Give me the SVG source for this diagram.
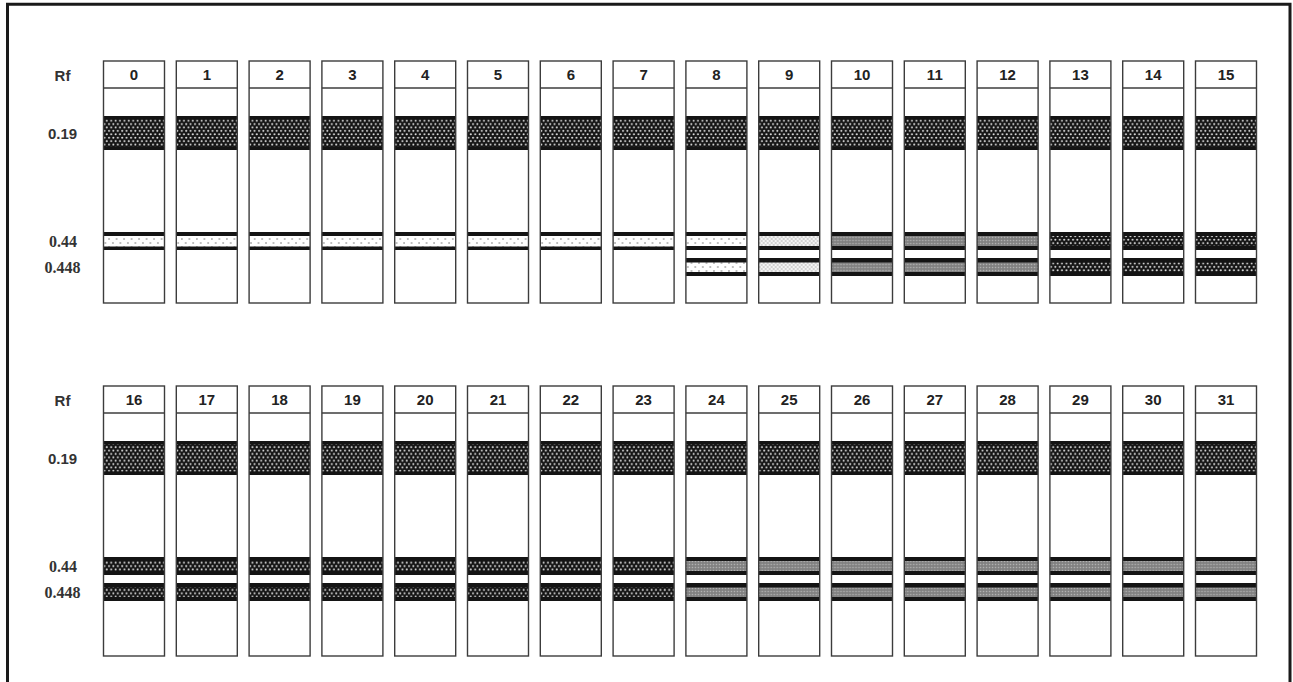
<svg xmlns="http://www.w3.org/2000/svg" width="1293" height="682" viewBox="0 0 1293 682">
<style>
.col{fill:none;stroke:#3c3c3c;stroke-width:1.4}
.bg{fill:#fff}
.hd{stroke:#3c3c3c;stroke-width:1.4}
.blk{fill:#141414}
.num{font-family:"Liberation Sans",Arial,sans-serif;font-weight:bold;font-size:15px;fill:#222;text-anchor:middle}
.lab{font-family:"Liberation Sans",Arial,sans-serif;font-weight:bold;font-size:15px;fill:#333;text-anchor:middle}
.labs{font-family:"Liberation Serif","Times New Roman",serif;font-weight:bold;font-size:16px;fill:#333;text-anchor:middle}
.frame{fill:none;stroke:#1a1a1a;stroke-width:3}
</style>
<defs>
<pattern id="pDark" patternUnits="userSpaceOnUse" width="4.4" height="6.8">
<rect width="4.4" height="6.8" fill="#141414"/>
<circle cx="1.1" cy="1.7" r="1" fill="#e6e6e6"/>
<circle cx="3.3" cy="5.1" r="1" fill="#e6e6e6"/>
</pattern>
<pattern id="pLight" patternUnits="userSpaceOnUse" width="7.5" height="8">
<rect width="7.5" height="8" fill="#fff"/>
<circle cx="1.9" cy="3" r="0.75" fill="#666"/>
<circle cx="5.6" cy="7" r="0.75" fill="#666"/>
</pattern>
<pattern id="pCirc" patternUnits="userSpaceOnUse" width="4" height="4">
<rect width="4" height="4" fill="#d2d2d2"/>
<circle cx="1" cy="1" r="1" fill="#fff"/>
<circle cx="3" cy="3" r="1" fill="#fff"/>
</pattern>
<pattern id="pGrey" patternUnits="userSpaceOnUse" width="3" height="3">
<rect width="3" height="3" fill="#8a8a8a"/>
<rect x="0" y="0" width="1" height="1" fill="#b4b4b4"/>
<rect x="1.5" y="1.5" width="1" height="1" fill="#666"/>
</pattern>
<g id="topCol">
<rect class="bg" x="0" y="61" width="61" height="242"/>
<rect class="blk" x="0" y="116" width="61" height="34"/>
<rect fill="url(#pDark)" x="0" y="119.5" width="61" height="27"/>
</g>
<g id="botCol">
<rect class="bg" x="0" y="386" width="61" height="270"/>
<rect class="blk" x="0" y="441" width="61" height="34"/>
<rect fill="url(#pDark)" x="0" y="444.5" width="61" height="27"/>
</g>
</defs>

<rect class="bg" width="1293" height="682"/>
<path class="frame" d="M7.5,682 V4.3 H1290 V682"/>

<g id="axis-labels">
<text class="lab" x="62.5" y="81">Rf</text>
<text class="lab" x="62.5" y="139">0.19</text>
<text class="labs" x="63" y="247">0.44</text>
<text class="labs" x="62.5" y="273">0.448</text>
<text class="lab" x="62.5" y="406">Rf</text>
<text class="lab" x="62.5" y="464">0.19</text>
<text class="labs" x="63" y="572">0.44</text>
<text class="labs" x="62.5" y="598">0.448</text>
</g>

<g id="connectors"></g>

<!-- top row -->
<g id="lane-0" transform="translate(103.5,0)"><use href="#topCol"/><rect class="blk" y="232" width="61" height="18"/><rect fill="url(#pLight)" y="236" width="61" height="10.5"/><rect class="col" width="61" y="61" height="242"/><line class="hd" x1="0" x2="61" y1="88" y2="88"/><text class="num" x="30.5" y="80">0</text></g>
<g id="lane-1" transform="translate(176.3,0)"><use href="#topCol"/><rect class="blk" y="232" width="61" height="18"/><rect fill="url(#pLight)" y="236" width="61" height="10.5"/><rect class="col" width="61" y="61" height="242"/><line class="hd" x1="0" x2="61" y1="88" y2="88"/><text class="num" x="30.5" y="80">1</text></g>
<g id="lane-2" transform="translate(249.1,0)"><use href="#topCol"/><rect class="blk" y="232" width="61" height="18"/><rect fill="url(#pLight)" y="236" width="61" height="10.5"/><rect class="col" width="61" y="61" height="242"/><line class="hd" x1="0" x2="61" y1="88" y2="88"/><text class="num" x="30.5" y="80">2</text></g>
<g id="lane-3" transform="translate(321.9,0)"><use href="#topCol"/><rect class="blk" y="232" width="61" height="18"/><rect fill="url(#pLight)" y="236" width="61" height="10.5"/><rect class="col" width="61" y="61" height="242"/><line class="hd" x1="0" x2="61" y1="88" y2="88"/><text class="num" x="30.5" y="80">3</text></g>
<g id="lane-4" transform="translate(394.7,0)"><use href="#topCol"/><rect class="blk" y="232" width="61" height="18"/><rect fill="url(#pLight)" y="236" width="61" height="10.5"/><rect class="col" width="61" y="61" height="242"/><line class="hd" x1="0" x2="61" y1="88" y2="88"/><text class="num" x="30.5" y="80">4</text></g>
<g id="lane-5" transform="translate(467.5,0)"><use href="#topCol"/><rect class="blk" y="232" width="61" height="18"/><rect fill="url(#pLight)" y="236" width="61" height="10.5"/><rect class="col" width="61" y="61" height="242"/><line class="hd" x1="0" x2="61" y1="88" y2="88"/><text class="num" x="30.5" y="80">5</text></g>
<g id="lane-6" transform="translate(540.3,0)"><use href="#topCol"/><rect class="blk" y="232" width="61" height="18"/><rect fill="url(#pLight)" y="236" width="61" height="10.5"/><rect class="col" width="61" y="61" height="242"/><line class="hd" x1="0" x2="61" y1="88" y2="88"/><text class="num" x="30.5" y="80">6</text></g>
<g id="lane-7" transform="translate(613.1,0)"><use href="#topCol"/><rect class="blk" y="232" width="61" height="18"/><rect fill="url(#pLight)" y="236" width="61" height="10.5"/><rect class="col" width="61" y="61" height="242"/><line class="hd" x1="0" x2="61" y1="88" y2="88"/><text class="num" x="30.5" y="80">7</text></g>
<g id="lane-8" transform="translate(685.9,0)"><use href="#topCol"/><rect class="blk" y="232" width="61" height="18"/><rect fill="url(#pLight)" y="236" width="61" height="10"/><rect class="blk" y="258" width="61" height="18"/><rect fill="url(#pLight)" y="262.5" width="61" height="9.5"/><rect class="col" width="61" y="61" height="242"/><line class="hd" x1="0" x2="61" y1="88" y2="88"/><text class="num" x="30.5" y="80">8</text></g>
<g id="lane-9" transform="translate(758.7,0)"><use href="#topCol"/><rect class="blk" y="232" width="61" height="18"/><rect fill="url(#pCirc)" y="236" width="61" height="10"/><rect class="blk" y="258" width="61" height="18"/><rect fill="url(#pCirc)" y="262.5" width="61" height="9.5"/><rect class="col" width="61" y="61" height="242"/><line class="hd" x1="0" x2="61" y1="88" y2="88"/><text class="num" x="30.5" y="80">9</text></g>
<g id="lane-10" transform="translate(831.5,0)"><use href="#topCol"/><rect class="blk" y="232" width="61" height="18"/><rect fill="url(#pGrey)" y="236" width="61" height="10"/><rect class="blk" y="258" width="61" height="18"/><rect fill="url(#pGrey)" y="262.5" width="61" height="9.5"/><rect class="col" width="61" y="61" height="242"/><line class="hd" x1="0" x2="61" y1="88" y2="88"/><text class="num" x="30.5" y="80">10</text></g>
<g id="lane-11" transform="translate(904.3,0)"><use href="#topCol"/><rect class="blk" y="232" width="61" height="18"/><rect fill="url(#pGrey)" y="236" width="61" height="10"/><rect class="blk" y="258" width="61" height="18"/><rect fill="url(#pGrey)" y="262.5" width="61" height="9.5"/><rect class="col" width="61" y="61" height="242"/><line class="hd" x1="0" x2="61" y1="88" y2="88"/><text class="num" x="30.5" y="80">11</text></g>
<g id="lane-12" transform="translate(977.1,0)"><use href="#topCol"/><rect class="blk" y="232" width="61" height="18"/><rect fill="url(#pGrey)" y="236" width="61" height="10"/><rect class="blk" y="258" width="61" height="18"/><rect fill="url(#pGrey)" y="262.5" width="61" height="9.5"/><rect class="col" width="61" y="61" height="242"/><line class="hd" x1="0" x2="61" y1="88" y2="88"/><text class="num" x="30.5" y="80">12</text></g>
<g id="lane-13" transform="translate(1049.9,0)"><use href="#topCol"/><rect class="blk" y="232" width="61" height="18"/><rect fill="url(#pDark)" y="236" width="61" height="10"/><rect class="blk" y="258" width="61" height="18"/><rect fill="url(#pDark)" y="262.5" width="61" height="9.5"/><rect class="col" width="61" y="61" height="242"/><line class="hd" x1="0" x2="61" y1="88" y2="88"/><text class="num" x="30.5" y="80">13</text></g>
<g id="lane-14" transform="translate(1122.7,0)"><use href="#topCol"/><rect class="blk" y="232" width="61" height="18"/><rect fill="url(#pDark)" y="236" width="61" height="10"/><rect class="blk" y="258" width="61" height="18"/><rect fill="url(#pDark)" y="262.5" width="61" height="9.5"/><rect class="col" width="61" y="61" height="242"/><line class="hd" x1="0" x2="61" y1="88" y2="88"/><text class="num" x="30.5" y="80">14</text></g>
<g id="lane-15" transform="translate(1195.5,0)"><use href="#topCol"/><rect class="blk" y="232" width="61" height="18"/><rect fill="url(#pDark)" y="236" width="61" height="10"/><rect class="blk" y="258" width="61" height="18"/><rect fill="url(#pDark)" y="262.5" width="61" height="9.5"/><rect class="col" width="61" y="61" height="242"/><line class="hd" x1="0" x2="61" y1="88" y2="88"/><text class="num" x="30.5" y="80">15</text></g>

<!-- bottom row -->
<g id="lane-16" transform="translate(103.5,0)"><use href="#botCol"/><rect class="blk" y="557" width="61" height="18"/><rect fill="url(#pDark)" y="561" width="61" height="10"/><rect class="blk" y="583" width="61" height="18"/><rect fill="url(#pDark)" y="587.5" width="61" height="9.5"/><rect class="col" width="61" y="386" height="270"/><line class="hd" x1="0" x2="61" y1="413" y2="413"/><text class="num" x="30.5" y="405">16</text></g>
<g id="lane-17" transform="translate(176.3,0)"><use href="#botCol"/><rect class="blk" y="557" width="61" height="18"/><rect fill="url(#pDark)" y="561" width="61" height="10"/><rect class="blk" y="583" width="61" height="18"/><rect fill="url(#pDark)" y="587.5" width="61" height="9.5"/><rect class="col" width="61" y="386" height="270"/><line class="hd" x1="0" x2="61" y1="413" y2="413"/><text class="num" x="30.5" y="405">17</text></g>
<g id="lane-18" transform="translate(249.1,0)"><use href="#botCol"/><rect class="blk" y="557" width="61" height="18"/><rect fill="url(#pDark)" y="561" width="61" height="10"/><rect class="blk" y="583" width="61" height="18"/><rect fill="url(#pDark)" y="587.5" width="61" height="9.5"/><rect class="col" width="61" y="386" height="270"/><line class="hd" x1="0" x2="61" y1="413" y2="413"/><text class="num" x="30.5" y="405">18</text></g>
<g id="lane-19" transform="translate(321.9,0)"><use href="#botCol"/><rect class="blk" y="557" width="61" height="18"/><rect fill="url(#pDark)" y="561" width="61" height="10"/><rect class="blk" y="583" width="61" height="18"/><rect fill="url(#pDark)" y="587.5" width="61" height="9.5"/><rect class="col" width="61" y="386" height="270"/><line class="hd" x1="0" x2="61" y1="413" y2="413"/><text class="num" x="30.5" y="405">19</text></g>
<g id="lane-20" transform="translate(394.7,0)"><use href="#botCol"/><rect class="blk" y="557" width="61" height="18"/><rect fill="url(#pDark)" y="561" width="61" height="10"/><rect class="blk" y="583" width="61" height="18"/><rect fill="url(#pDark)" y="587.5" width="61" height="9.5"/><rect class="col" width="61" y="386" height="270"/><line class="hd" x1="0" x2="61" y1="413" y2="413"/><text class="num" x="30.5" y="405">20</text></g>
<g id="lane-21" transform="translate(467.5,0)"><use href="#botCol"/><rect class="blk" y="557" width="61" height="18"/><rect fill="url(#pDark)" y="561" width="61" height="10"/><rect class="blk" y="583" width="61" height="18"/><rect fill="url(#pDark)" y="587.5" width="61" height="9.5"/><rect class="col" width="61" y="386" height="270"/><line class="hd" x1="0" x2="61" y1="413" y2="413"/><text class="num" x="30.5" y="405">21</text></g>
<g id="lane-22" transform="translate(540.3,0)"><use href="#botCol"/><rect class="blk" y="557" width="61" height="18"/><rect fill="url(#pDark)" y="561" width="61" height="10"/><rect class="blk" y="583" width="61" height="18"/><rect fill="url(#pDark)" y="587.5" width="61" height="9.5"/><rect class="col" width="61" y="386" height="270"/><line class="hd" x1="0" x2="61" y1="413" y2="413"/><text class="num" x="30.5" y="405">22</text></g>
<g id="lane-23" transform="translate(613.1,0)"><use href="#botCol"/><rect class="blk" y="557" width="61" height="18"/><rect fill="url(#pDark)" y="561" width="61" height="10"/><rect class="blk" y="583" width="61" height="18"/><rect fill="url(#pDark)" y="587.5" width="61" height="9.5"/><rect class="col" width="61" y="386" height="270"/><line class="hd" x1="0" x2="61" y1="413" y2="413"/><text class="num" x="30.5" y="405">23</text></g>
<g id="lane-24" transform="translate(685.9,0)"><use href="#botCol"/><rect class="blk" y="557" width="61" height="18"/><rect fill="url(#pGrey)" y="561" width="61" height="10"/><rect class="blk" y="583" width="61" height="18"/><rect fill="url(#pGrey)" y="587.5" width="61" height="9.5"/><rect class="col" width="61" y="386" height="270"/><line class="hd" x1="0" x2="61" y1="413" y2="413"/><text class="num" x="30.5" y="405">24</text></g>
<g id="lane-25" transform="translate(758.7,0)"><use href="#botCol"/><rect class="blk" y="557" width="61" height="18"/><rect fill="url(#pGrey)" y="561" width="61" height="10"/><rect class="blk" y="583" width="61" height="18"/><rect fill="url(#pGrey)" y="587.5" width="61" height="9.5"/><rect class="col" width="61" y="386" height="270"/><line class="hd" x1="0" x2="61" y1="413" y2="413"/><text class="num" x="30.5" y="405">25</text></g>
<g id="lane-26" transform="translate(831.5,0)"><use href="#botCol"/><rect class="blk" y="557" width="61" height="18"/><rect fill="url(#pGrey)" y="561" width="61" height="10"/><rect class="blk" y="583" width="61" height="18"/><rect fill="url(#pGrey)" y="587.5" width="61" height="9.5"/><rect class="col" width="61" y="386" height="270"/><line class="hd" x1="0" x2="61" y1="413" y2="413"/><text class="num" x="30.5" y="405">26</text></g>
<g id="lane-27" transform="translate(904.3,0)"><use href="#botCol"/><rect class="blk" y="557" width="61" height="18"/><rect fill="url(#pGrey)" y="561" width="61" height="10"/><rect class="blk" y="583" width="61" height="18"/><rect fill="url(#pGrey)" y="587.5" width="61" height="9.5"/><rect class="col" width="61" y="386" height="270"/><line class="hd" x1="0" x2="61" y1="413" y2="413"/><text class="num" x="30.5" y="405">27</text></g>
<g id="lane-28" transform="translate(977.1,0)"><use href="#botCol"/><rect class="blk" y="557" width="61" height="18"/><rect fill="url(#pGrey)" y="561" width="61" height="10"/><rect class="blk" y="583" width="61" height="18"/><rect fill="url(#pGrey)" y="587.5" width="61" height="9.5"/><rect class="col" width="61" y="386" height="270"/><line class="hd" x1="0" x2="61" y1="413" y2="413"/><text class="num" x="30.5" y="405">28</text></g>
<g id="lane-29" transform="translate(1049.9,0)"><use href="#botCol"/><rect class="blk" y="557" width="61" height="18"/><rect fill="url(#pGrey)" y="561" width="61" height="10"/><rect class="blk" y="583" width="61" height="18"/><rect fill="url(#pGrey)" y="587.5" width="61" height="9.5"/><rect class="col" width="61" y="386" height="270"/><line class="hd" x1="0" x2="61" y1="413" y2="413"/><text class="num" x="30.5" y="405">29</text></g>
<g id="lane-30" transform="translate(1122.7,0)"><use href="#botCol"/><rect class="blk" y="557" width="61" height="18"/><rect fill="url(#pGrey)" y="561" width="61" height="10"/><rect class="blk" y="583" width="61" height="18"/><rect fill="url(#pGrey)" y="587.5" width="61" height="9.5"/><rect class="col" width="61" y="386" height="270"/><line class="hd" x1="0" x2="61" y1="413" y2="413"/><text class="num" x="30.5" y="405">30</text></g>
<g id="lane-31" transform="translate(1195.5,0)"><use href="#botCol"/><rect class="blk" y="557" width="61" height="18"/><rect fill="url(#pGrey)" y="561" width="61" height="10"/><rect class="blk" y="583" width="61" height="18"/><rect fill="url(#pGrey)" y="587.5" width="61" height="9.5"/><rect class="col" width="61" y="386" height="270"/><line class="hd" x1="0" x2="61" y1="413" y2="413"/><text class="num" x="30.5" y="405">31</text></g>
</svg>
